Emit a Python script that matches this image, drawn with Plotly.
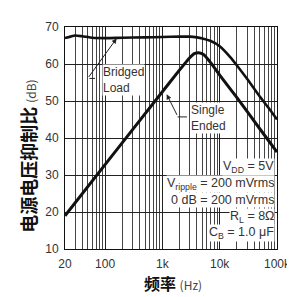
import numpy as np
import plotly.graph_objects as go

# ---- data ----
bridged_freq = [20, 25, 30, 40, 60, 100, 200, 500, 1000, 2000, 3000, 4000, 5000, 7000,
                10000, 15000, 20000, 30000, 50000, 70000, 100000]
bridged_db = [67.0, 67.4, 67.7, 67.5, 67.1, 67.0, 67.1, 67.2, 67.3, 67.4, 67.4, 67.2, 66.9, 66.2,
              64.8, 62.0, 59.6, 56.0, 51.2, 48.3, 45.0]

single_freq = [20, 100, 1000, 2000, 3000, 3600, 4500, 5300, 7000, 10000, 20000, 50000, 100000]
single_db = [19.0, 32.8, 52.5, 58.4, 61.7, 62.8, 63.0, 62.5, 60.3, 57.0, 50.9, 42.5, 36.2]

x_tickvals = [20, 100, 1000, 10000, 100000]
x_ticktext = ["20", "100", "1k", "10k", "100k"]
y_tickvals = [10, 20, 30, 40, 50, 60, 70]
x_minor = [m * d for d in (10, 100, 1000, 10000) for m in range(2, 10)]
x_minor = [v for v in x_minor if v > 20]

cond_lines = ["V<sub>DD</sub> = 5V",
              "V<sub>ripple</sub> = 200 mVrms",
              "0 dB = 200 mVrms",
              "R<sub>L</sub> = 8Ω",
              "C<sub>B</sub> = 1.0 μF"]

FONT = "Liberation Sans, Arial, sans-serif"
CJK = "Noto Sans CJK SC"
TXT = "#333333"

fig = go.Figure()
fig.add_trace(go.Scatter(x=bridged_freq, y=bridged_db, mode="lines",
                         line=dict(color="#111111", width=2.6, shape="spline", smoothing=0.6),
                         showlegend=False, hoverinfo="skip"))
fig.add_trace(go.Scatter(x=single_freq, y=single_db, mode="lines",
                         line=dict(color="#111111", width=3, shape="spline", smoothing=0.5),
                         showlegend=False, hoverinfo="skip"))

# leader line segments
fig.add_trace(go.Scatter(x=[53.3, 66.8], y=[56.1, 56.1], mode="lines",
                         line=dict(color="#222", width=1), showlegend=False, hoverinfo="skip"))
fig.add_trace(go.Scatter(x=[1841, 2686], y=[45.7, 45.7], mode="lines",
                         line=dict(color="#222", width=1), showlegend=False, hoverinfo="skip"))

annotations = []
# arrows
annotations.append(dict(x=np.log10(159), y=66.9, xref="x", yref="y", text="", showarrow=True,
                        ax=-29, ay=40, arrowhead=2, arrowsize=1, arrowwidth=1, arrowcolor="#222"))
annotations.append(dict(x=np.log10(1190), y=51.8, xref="x", yref="y", text="", showarrow=True,
                        ax=11, ay=22, arrowhead=2, arrowsize=1, arrowwidth=1, arrowcolor="#222"))
# curve labels
annotations.append(dict(x=1.939, y=55.8, xref="x", yref="y", text="Bridged<br>Load",
                        showarrow=False, xanchor="left", yanchor="middle", align="left",
                        bgcolor="white", borderpad=0,
                        font=dict(family=FONT, size=12, color=TXT)))
annotations.append(dict(x=3.478, y=45.3, xref="x", yref="y", text="Single<br>Ended",
                        showarrow=False, xanchor="left", yanchor="middle", align="left",
                        bgcolor="white", borderpad=0,
                        font=dict(family=FONT, size=12, color=TXT)))
# conditions box
cond_y = [0.370, 0.295, 0.219, 0.146, 0.071]
for t, yy in zip(cond_lines, cond_y):
    annotations.append(dict(x=0.99, y=yy, xref="paper", yref="paper", text=t, showarrow=False,
                            xanchor="right", yanchor="middle", bgcolor="white", borderpad=0,
                            font=dict(family=FONT, size=12.5, color=TXT)))
# axis titles
annotations.append(dict(x=-0.1726, y=0.417, xref="paper", yref="paper", textangle=-90,
                        text="<b>电源电压抑制比</b> <span style='font-size:12px;color:#444'>(dB)</span>",
                        showarrow=False, xanchor="center", yanchor="middle",
                        font=dict(family=CJK, size=18, color="#111")))
annotations.append(dict(x=0.51, y=-0.155, xref="paper", yref="paper",
                        text="<b>频率</b> <span style='font-size:12px;color:#444'>(Hz)</span>",
                        showarrow=False, xanchor="center", yanchor="middle",
                        font=dict(family=CJK, size=16, color="#111")))

fig.update_layout(
    width=295, height=297,
    margin=dict(l=57, r=12, t=16, b=56),
    paper_bgcolor="white", plot_bgcolor="white",
    annotations=annotations,
    showlegend=False,
)
fig.update_xaxes(type="log", range=[np.log10(20), 5],
                 tickvals=x_tickvals, ticktext=x_ticktext, ticklabeloverflow="allow",
                 showgrid=True, gridcolor="#222", gridwidth=1,
                 minor=dict(tickvals=x_minor, showgrid=True, gridcolor="#444", gridwidth=1,
                            ticks=""),
                 showline=True, linecolor="#111", linewidth=1, mirror=True,
                 ticks="outside", ticklen=4, tickcolor="rgba(0,0,0,0)",
                 tickfont=dict(family=FONT, size=12, color=TXT), zeroline=False)
fig.update_yaxes(range=[10, 70], tickvals=y_tickvals,
                 showgrid=True, gridcolor="#222", gridwidth=1,
                 showline=True, linecolor="#111", linewidth=1, mirror=True,
                 ticks="outside", ticklen=3, tickcolor="rgba(0,0,0,0)",
                 tickfont=dict(family=FONT, size=12, color=TXT), zeroline=False)

fig.write_html("out.html")
